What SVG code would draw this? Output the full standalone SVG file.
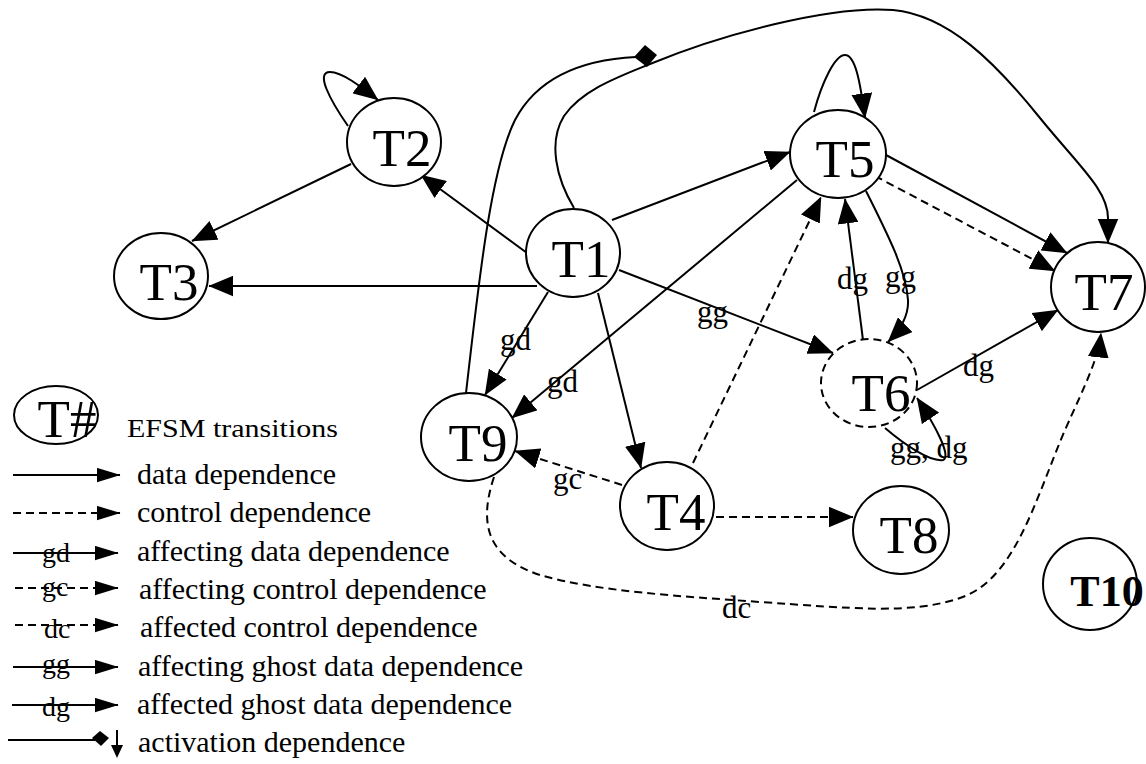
<svg xmlns="http://www.w3.org/2000/svg" width="1146" height="764" viewBox="0 0 1146 764">
  <style>
    text { font-family: "Liberation Serif", "Times New Roman", serif; fill: #000; }
    .node ellipse { fill: #fff; stroke: #000; stroke-width: 2; }
    .node ellipse.ghost { stroke-dasharray: 8 5; }
    .lbl { font-size: 53px; text-anchor: middle; }
    .edge { fill: none; stroke: #000; stroke-width: 2; }
    .dash { stroke-dasharray: 8 5; }
    .elbl { font-size: 31px; }
    .leg { font-size: 30px; }
    .legk { font-size: 28px; }
  </style>
  <defs>
    <marker id="arr" markerUnits="userSpaceOnUse" markerWidth="25" markerHeight="21" viewBox="0 0 24 20" refX="23.5" refY="10" orient="auto">
      <path d="M0,0 L24,10 L0,20 z" fill="#000"/>
    </marker>
    <marker id="arrS" markerUnits="userSpaceOnUse" markerWidth="24" markerHeight="15" viewBox="0 0 23 14" refX="22.5" refY="7" orient="auto">
      <path d="M0,0 L23,7 L0,14 z" fill="#000"/>
    </marker>
  </defs>

  <!-- dependence edges -->
  <g id="connectors">
    <!-- T2 self loop -->
    <path class="edge" d="M348,126 C330,100 315,72 330,72 C342,72 360,86 378,100" marker-end="url(#arr)"/>
    <!-- T2 -> T3 -->
    <path class="edge" d="M351,164 L192,241" marker-end="url(#arr)"/>
    <!-- T1 -> T2 -->
    <path class="edge" d="M527,253 L421,175" marker-end="url(#arr)"/>
    <!-- T1 -> T3 -->
    <path class="edge" d="M537,286 L209,286" marker-end="url(#arr)"/>
    <!-- T1 -> T5 -->
    <path class="edge" d="M612,220 L790,152" marker-end="url(#arr)"/>
    <!-- T1 -> T7 over the top -->
    <path class="edge" d="M574,208 C556,178 548,142 564,116 C582,90 618,77 650,64 C720,35 830,5 893,10 C948,15 995,62 1040,118 C1078,165 1108,190 1108,218 L1108,243" marker-end="url(#arr)"/>
    <!-- T9 activates T1 -> T7 -->
    <path class="edge" d="M466,393 C478,290 490,170 515,120 C535,82 575,60 636,57"/>
    <polygon points="645,45 657,55 647,67 634,57" fill="#000"/>
    <!-- T5 self loop -->
    <path class="edge" d="M814,112 C822,82 835,55 845,55 C855,55 860,80 865,118" marker-end="url(#arr)"/>
    <!-- T5 -> T7 -->
    <path class="edge" d="M886,155 L1067,253" marker-end="url(#arr)"/>
    <path class="edge dash" d="M875,176 L1055,271" marker-end="url(#arr)"/>
    <!-- T5 -> T9 gd -->
    <path class="edge" d="M797,180 L512,418" marker-end="url(#arr)"/>
    <text class="elbl" x="547" y="392">gd</text>
    <!-- T1 -> T9 gd -->
    <path class="edge" d="M548,292 L485,395" marker-end="url(#arr)"/>
    <text class="elbl" x="500" y="350">gd</text>
    <!-- T1 -> T4 -->
    <path class="edge" d="M598,293 L641,468" marker-end="url(#arr)"/>
    <!-- T1 -> T6 gg -->
    <path class="edge" d="M619,270 L833,353" marker-end="url(#arr)"/>
    <text class="elbl" x="697" y="322">gg</text>
    <!-- T4 -> T5 -->
    <path class="edge dash" d="M693,463 L821,197" marker-end="url(#arr)"/>
    <!-- T6 -> T5 dg -->
    <path class="edge" d="M863,340 L845,199" marker-end="url(#arr)"/>
    <text class="elbl" x="837" y="289">dg</text>
    <!-- T5 -> T6 gg -->
    <path class="edge" d="M866,191 C888,235 906,270 908,300 C909,318 898,332 888,342" marker-end="url(#arr)"/>
    <text class="elbl" x="885" y="287">gg</text>
    <!-- T6 -> T7 dg -->
    <path class="edge" d="M917,390 L1058,310" marker-end="url(#arr)"/>
    <text class="elbl" x="963" y="376">dg</text>
    <!-- T6 self loop gg, dg -->
    <path class="edge" d="M885,428 C905,445 930,462 943,460 C952,457 935,425 917,398" marker-end="url(#arr)"/>
    <text class="elbl" x="890" y="458">gg, dg</text>
    <!-- T4 -> T9 gc -->
    <path class="edge dash" d="M622,485 L515,451" marker-end="url(#arr)"/>
    <text class="elbl" x="553" y="489">gc</text>
    <!-- T4 -> T8 -->
    <path class="edge dash" d="M716,517 L853,517" marker-end="url(#arr)"/>
    <!-- T9 -> T7 dc -->
    <path class="edge dash" d="M494,477 C478,525 488,558 540,575 C600,592 680,596 760,602 C850,608 910,615 960,598 C1015,580 1035,500 1065,430 C1085,385 1098,360 1101,333" marker-end="url(#arr)"/>
    <text class="elbl" x="722" y="618">dc</text>
  </g>

  <!-- EFSM transitions -->
  <g id="T1" class="node"><ellipse cx="573" cy="253" rx="47" ry="44"/><text class="lbl" x="581" y="277">T1</text></g>
  <g id="T2" class="node"><ellipse cx="394" cy="142" rx="47" ry="44"/><text class="lbl" x="402" y="166">T2</text></g>
  <g id="T3" class="node"><ellipse cx="161" cy="276" rx="47" ry="43"/><text class="lbl" x="169" y="300">T3</text></g>
  <g id="T4" class="node"><ellipse cx="667" cy="506" rx="47" ry="44"/><text class="lbl" x="676" y="530">T4</text></g>
  <g id="T5" class="node"><ellipse cx="838" cy="154" rx="48" ry="44"/><text class="lbl" x="845" y="177">T5</text></g>
  <g id="T6" class="node"><ellipse class="ghost" cx="869" cy="383" rx="48" ry="44"/><text class="lbl" x="881" y="411">T6</text></g>
  <g id="T7" class="node"><ellipse cx="1098" cy="287" rx="47" ry="45"/><text class="lbl" x="1104" y="310">T7</text></g>
  <g id="T8" class="node"><ellipse cx="901" cy="530" rx="48" ry="44"/><text class="lbl" x="909" y="553">T8</text></g>
  <g id="T9" class="node"><ellipse cx="469" cy="437" rx="48" ry="44"/><text class="lbl" x="478" y="461">T9</text></g>
  <g id="T10" class="node"><ellipse cx="1090" cy="584" rx="47" ry="46"/><text x="1107" y="606" style="font-size:44px;font-weight:bold;text-anchor:middle">T10</text></g>

  <!-- legend -->
  <g id="legend">
    <g id="Tsharp" class="node"><ellipse cx="56" cy="415" rx="42" ry="29"/><text class="lbl" x="67" y="437">T#</text></g>
    <text x="127" y="437" style="font-size:25px" textLength="211" lengthAdjust="spacingAndGlyphs">EFSM transitions</text>

    <path class="edge" d="M13,475 L120,475" marker-end="url(#arrS)"/>
    <text class="leg" x="137" y="484">data dependence</text>

    <path class="edge dash" d="M13,513 L96,513"/>
    <path class="edge" d="M96,513 L120,513" marker-end="url(#arrS)"/>
    <text class="leg" x="137" y="522">control dependence</text>

    <path class="edge" d="M13,553 L118,553" marker-end="url(#arrS)"/>
    <text class="legk" x="42" y="562">gd</text>
    <text class="leg" x="137" y="561">affecting data dependence</text>

    <path class="edge dash" d="M15,588 L96,588"/>
    <path class="edge" d="M96,588 L118,588" marker-end="url(#arrS)"/>
    <text class="legk" x="42" y="596">gc</text>
    <text class="leg" x="139" y="599">affecting control dependence</text>

    <path class="edge dash" d="M15,625 L96,625"/>
    <path class="edge" d="M96,625 L118,625" marker-end="url(#arrS)"/>
    <text class="legk" x="44" y="638">dc</text>
    <text class="leg" x="140" y="637">affected control dependence</text>

    <path class="edge" d="M13,667 L118,667" marker-end="url(#arrS)"/>
    <text class="legk" x="42" y="673">gg</text>
    <text class="leg" x="138" y="676">affecting ghost data dependence</text>

    <path class="edge" d="M12,705 L118,705" marker-end="url(#arrS)"/>
    <text class="legk" x="42" y="716">dg</text>
    <text class="leg" x="137" y="714">affected ghost data dependence</text>

    <path class="edge" d="M8,740 L95,740"/>
    <polygon points="92,738 100,731 109,738 101,746" fill="#000"/>
    <path class="edge" d="M117,730 L117,748"/>
    <polygon points="111,745 123,745 117,758" fill="#000"/>
    <text class="leg" x="138" y="752">activation dependence</text>
  </g>
</svg>
